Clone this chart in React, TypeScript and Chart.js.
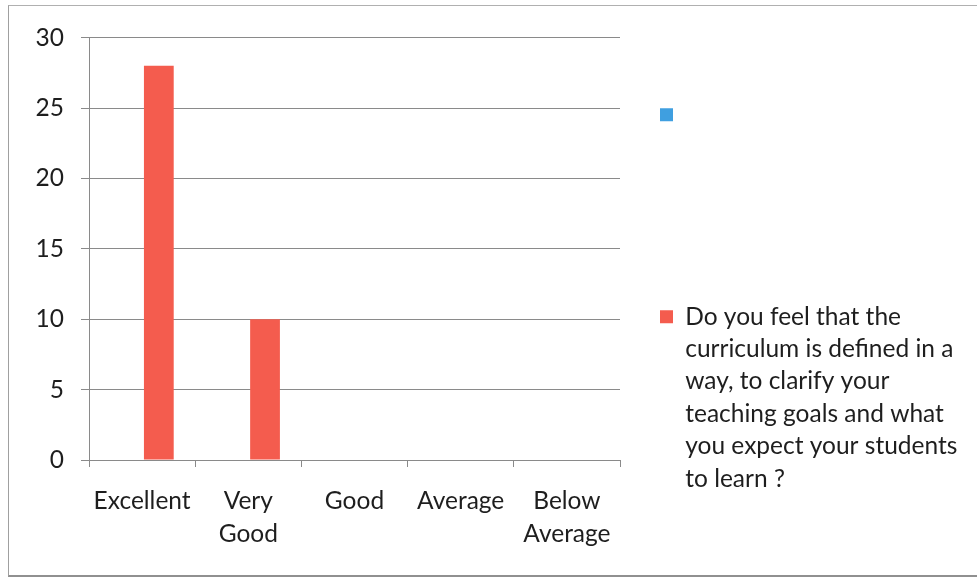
import React, { useEffect, useRef } from 'react';
import { Chart, registerables } from 'chart.js';

Chart.register(...registerables);

const categories: string[][] = [['Excellent'], ['Very', 'Good'], ['Good'], ['Average'], ['Below', 'Average']];
const blankSeries: number[] = [0, 0, 0, 0, 0];
const curriculumSeries: number[] = [28, 10, 0, 0, 0];
const yTicks: number[] = [0, 5, 10, 15, 20, 25, 30];
const blankLegendLines: string[] = ['', '', '', '', ''];
const curriculumLegendLines: string[] = [
  'Do you feel that the',
  'curriculum is defined in a',
  'way, to clarify your',
  'teaching goals and what',
  'you expect your students',
  'to learn ?',
];

const BLUE = '#3f9fe0';
const RED = '#f45c4e';
const GRID = '#8a8a8a';
const TEXT = '#1e1e1e';
const FONT = 'Lato, "Open Sans", sans-serif';
const FS = 24.5;
const LH = 32.4 / FS;

export default function App() {
  const ref = useRef<HTMLCanvasElement | null>(null);

  useEffect(() => {
    if (!ref.current) return;
    const legendLines = [blankLegendLines, curriculumLegendLines];
    const chart = new Chart(ref.current, {
      type: 'bar',
      data: {
        labels: categories,
        datasets: [
          { label: '', data: blankSeries, backgroundColor: BLUE, borderWidth: 0, categoryPercentage: 0.63, barPercentage: 0.89 },
          { label: curriculumLegendLines.join(' '), data: curriculumSeries, backgroundColor: RED, borderWidth: 0, categoryPercentage: 0.63, barPercentage: 0.89 },
        ],
      },
      options: {
        responsive: false,
        animation: false,
        layout: { padding: { top: 30, right: 20, bottom: 0, left: 0 } },
        plugins: {
          tooltip: { enabled: false },
          legend: {
            position: 'right',
            align: 'start',
            maxWidth: 337,
            title: { display: true, text: '', padding: 0, font: { size: 10, lineHeight: 2.65 } },
            labels: {
              boxWidth: 13,
              boxHeight: 13,
              padding: 40,
              color: TEXT,
              font: { family: FONT, size: FS, lineHeight: LH },
              generateLabels: (c: any) =>
                c.data.datasets.map((ds: any, i: number) => ({
                  text: legendLines[i],
                  fillStyle: ds.backgroundColor,
                  strokeStyle: ds.backgroundColor,
                  lineWidth: 0,
                  hidden: false,
                  datasetIndex: i,
                  fontColor: TEXT,
                })),
            },
          },
        },
        scales: {
          x: {
            grid: { display: true, drawOnChartArea: false, drawTicks: true, tickLength: 7, offset: true, color: GRID },
            border: { display: true, color: GRID },
            ticks: { color: TEXT, padding: 18, maxRotation: 0, autoSkip: false, font: { family: FONT, size: FS, lineHeight: LH } },
            afterFit: (s: any) => { s.height = 115; },
          },
          y: {
            min: yTicks[0],
            max: yTicks[yTicks.length - 1],
            ticks: { stepSize: yTicks[1] - yTicks[0], color: TEXT, padding: 17, font: { family: FONT, size: FS } },
            grid: { color: GRID, tickLength: 8, drawTicks: true },
            border: { display: true, color: GRID },
            afterFit: (s: any) => { s.width = 80; },
          },
        },
      },
    } as any);
    return () => chart.destroy();
  }, []);

  return (
    <div
      style={{
        position: 'absolute',
        left: 8,
        top: 5,
        width: 969,
        height: 572,
        boxSizing: 'border-box',
        borderLeft: '1px solid #a0a0a0',
        borderTop: '1px solid #b0b0b0',
        borderBottom: '2px solid #909090',
        background: '#fff',
      }}
    >
      <canvas ref={ref} width={968} height={569} style={{ display: 'block', width: 968, height: 569 }} />
    </div>
  );
}
